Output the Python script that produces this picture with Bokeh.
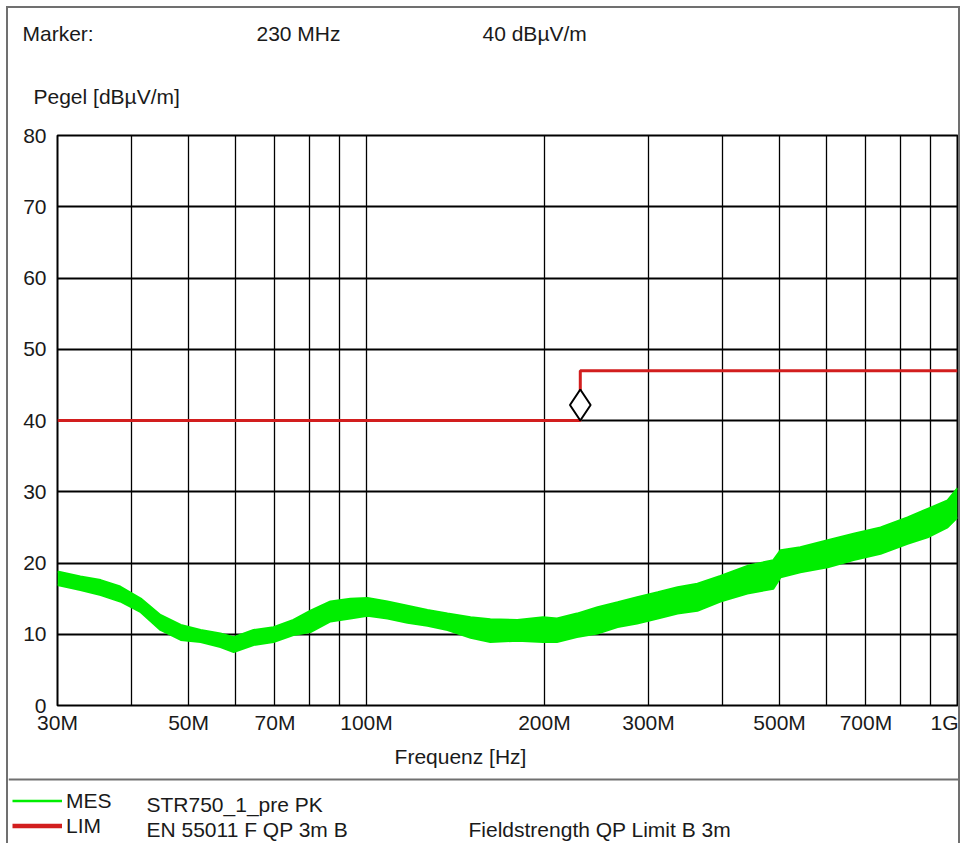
import numpy as np
from bokeh.plotting import figure
from bokeh.layouts import column
from bokeh.models import (FixedTicker, Label, Legend, LegendItem, Span,
                          ColumnDataSource, Range1d)
from bokeh.transform import dodge
from bokeh.embed import file_html
from bokeh.resources import INLINE

# ---------------- data ----------------
# measured trace (MES, peak): frequency [MHz], upper / lower edge of the noisy band [dBuV/m]
mes_freq_mhz = [30, 32.8, 35.5, 38.3, 41.5, 44.8, 48.5, 52.4, 56.6, 59.6, 64.4, 69.6, 75.2,
                80.4, 86.9, 93.9, 100.4, 108.5, 117.3, 126.8, 137.1, 150, 162, 180, 199,
                210, 227, 246, 266, 287, 311, 336, 363, 397, 441, 488, 502, 542, 603, 667,
                741, 823, 890, 962, 1000]
mes_hi = [18.8, 18.1, 17.6, 16.7, 15.0, 12.7, 11.3, 10.6, 10.1, 9.6, 10.6, 11.0, 12.0,
          13.3, 14.6, 15.0, 15.1, 14.6, 14.0, 13.4, 12.9, 12.4, 12.1, 12.0, 12.4,
          12.2, 12.9, 13.8, 14.5, 15.2, 15.9, 16.6, 17.1, 18.2, 19.6, 20.4, 21.8, 22.2, 23.2, 24.1,
          25.0, 26.4, 27.6, 28.8, 30.5]
mes_lo = [16.9, 16.2, 15.5, 14.6, 13.1, 10.6, 9.2, 8.9, 8.2, 7.5, 8.5, 8.9, 9.9,
          10.3, 11.8, 12.2, 12.6, 12.2, 11.6, 11.2, 10.6, 9.5, 8.9, 9.1, 8.9,
          8.9, 9.6, 10.1, 11.0, 11.5, 12.2, 12.9, 13.3, 14.6, 15.7, 16.4, 18.0, 18.7, 19.4, 20.4,
          21.3, 22.7, 23.6, 25.0, 26.4]

# limit line (LIM) EN 55011 QP 3m class B
lim_freq_mhz = [30, 230, 230, 1000]
lim_level = [40, 40, 47, 47]

# marker
marker_freq_mhz = [230]
marker_level = [40]

# axes
y_ticks = [0, 10, 20, 30, 40, 50, 60, 70, 80]
x_major_mhz = [30, 50, 70, 100, 200, 300, 500, 700, 1000]
x_major_labels = ["30M", "50M", "70M", "100M", "200M", "300M", "500M", "700M", "1G"]
x_minor_mhz = [40, 60, 80, 90, 400, 600, 800, 900]

# ---------------- style ----------------
GREEN = "#00ee00"
RED = "#d21e1e"
GRAY = "#707070"
TXT = "#1a1a1a"
FONT = "Liberation Sans"
TS = "21px"

X0, X1 = 8, 958              # content area in page pixels (inside the gray box)
W = X1 - X0
A_TOP, A_BOT = 8, 120        # header strip
B_BOT = 740                  # main chart strip
C_BOT = 843                  # footer strip
F_LEFT, F_RIGHT, F_TOP, F_BOT = 57, 957, 135, 705   # plot frame in page pixels
mhz = 1e6


def text_strip(top, bottom):
    s = figure(width=W, height=bottom - top, x_range=Range1d(X0, X1),
               y_range=Range1d(bottom, top), output_backend="svg", toolbar_location=None,
               min_border=0, x_axis_location=None, y_axis_location=None,
               frame_align=False)
    s.outline_line_color = None
    s.xgrid.visible = False
    s.ygrid.visible = False
    s.background_fill_color = "white"
    s.border_fill_color = "white"
    return s


def add_text(fig, px, py, txt, size=TS, align="left"):
    # py = visual centre line of the text
    fig.add_layout(Label(x=px, y=py, text=txt, text_font=FONT, text_font_size=size,
                         text_color=TXT, text_align=align, text_baseline="alphabetic"))


# ---------------- header ----------------
pa = text_strip(A_TOP, A_BOT)
add_text(pa, 22, 33, "Marker:")
add_text(pa, 256, 33, f"{marker_freq_mhz[0]} MHz")
add_text(pa, 482, 33, f"{marker_level[0]} dBµV/m")
add_text(pa, 33, 96, "Pegel [dBµV/m]")

# ---------------- main chart ----------------
p = figure(width=W, height=B_BOT - A_BOT, x_axis_type="log",
           x_range=Range1d(30 * mhz, 1000 * mhz), y_range=Range1d(0, 80),
           output_backend="svg", toolbar_location=None, frame_align=False,
           min_border_left=F_LEFT - X0, min_border_right=X1 - F_RIGHT,
           min_border_top=F_TOP - A_BOT, min_border_bottom=B_BOT - F_BOT)
p.outline_line_color = "black"
p.outline_line_width = 2
p.background_fill_color = "white"
p.border_fill_color = "white"

p.xaxis.ticker = FixedTicker(ticks=[f * mhz for f in x_major_mhz],
                             minor_ticks=[f * mhz for f in x_minor_mhz])
p.xaxis.major_label_overrides = {int(f * mhz): lab for f, lab in zip(x_major_mhz, x_major_labels)}
p.yaxis.ticker = FixedTicker(ticks=y_ticks)
for ax in (p.xaxis[0], p.yaxis[0]):
    ax.axis_line_color = None
    ax.major_tick_line_color = None
    ax.minor_tick_line_color = None
    ax.major_tick_in = 0
    ax.major_tick_out = 0
    ax.minor_tick_in = 0
    ax.minor_tick_out = 0
    ax.major_label_text_font = FONT
    ax.major_label_text_font_size = "21px"
    ax.major_label_text_color = TXT
p.xaxis.major_label_standoff = 5
p.yaxis.major_label_standoff = 11

p.xgrid.grid_line_color = "black"
p.xgrid.grid_line_width = 1.3
p.xgrid.minor_grid_line_color = "black"
p.xgrid.minor_grid_line_width = 1.3
p.ygrid.grid_line_color = "black"
p.ygrid.grid_line_width = 1.8

fx_hz = [f * mhz for f in mes_freq_mhz]
p.varea(x=fx_hz, y1=mes_lo, y2=mes_hi, fill_color=GREEN)
p.line(fx_hz, mes_hi, line_color=GREEN, line_width=2)
p.line(fx_hz, mes_lo, line_color=GREEN, line_width=2)

p.line([f * mhz for f in lim_freq_mhz], lim_level, line_color=RED, line_width=3)

msrc = ColumnDataSource(dict(x=[f * mhz for f in marker_freq_mhz], y=marker_level))
p.scatter(x="x", y=dodge("y", 15.5 / 7.125, range=p.y_range), source=msrc, marker="diamond",
          size=31, fill_color="white", line_color="black", line_width=2)

# ---------------- footer: axis title, separator, legend ----------------
pc = text_strip(B_BOT, C_BOT)
add_text(pc, 460, 756, "Frequenz [Hz]", align="center")
pc.add_layout(Span(location=779, dimension="width", line_color=GRAY, line_width=2))

# legend keys (no visible data in this strip; they only carry the line styles)
nan = float("nan")
mes_key = pc.line(x=[nan], y=[nan], line_color=GREEN, line_width=2.5)
lim_key = pc.line(x=[nan], y=[nan], line_color=RED, line_width=4.5)
legend = Legend(items=[LegendItem(label="MES", renderers=[mes_key]),
                       LegendItem(label="LIM", renderers=[lim_key])],
                location=(12 - X0, C_BOT - 838),
                glyph_width=50, glyph_height=25, label_standoff=4, spacing=0,
                padding=0, margin=0, border_line_color=None, background_fill_alpha=0,
                label_text_font=FONT, label_text_font_size=TS, label_text_color=TXT)
pc.add_layout(legend)
add_text(pc, 146, 804, "STR750_1_pre PK")
add_text(pc, 146, 829, "EN 55011 F QP 3m B")
add_text(pc, 468, 829, "Fieldstrength QP Limit B 3m")

layout = column(pa, p, pc, spacing=0,
                styles={"margin-left": "6px", "margin-top": "6px",
                        "border-left": f"2px solid {GRAY}", "border-top": f"2px solid {GRAY}",
                        "border-right": f"2px solid {GRAY}"})

open("out.html", "w").write(file_html(layout, INLINE))
